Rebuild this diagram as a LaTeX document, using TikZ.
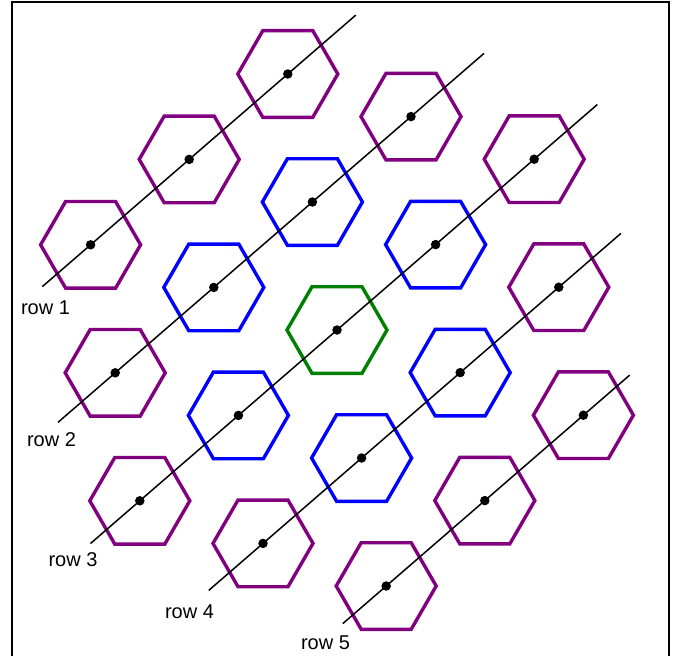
\documentclass[tikz,border=0pt]{standalone}
\usepackage{fontspec}
\setmainfont{Liberation Sans}
\usetikzlibrary{calc}
\definecolor{hpurple}{RGB}{128,0,128}
\definecolor{hblue}{RGB}{0,0,255}
\definecolor{hgreen}{RGB}{0,128,0}
\tikzset{
  hexp/.style={draw=hpurple,line width=3.4pt},
  hexb/.style={draw=hblue,line width=3.4pt},
  hexg/.style={draw=hgreen,line width=3.4pt},
  rowline/.style={draw=black,line width=1.5pt},
  centerdot/.style={circle,fill=black,inner sep=0pt,minimum size=9.5pt},
  rowlabel/.style={anchor=base,inner sep=0pt,font=\fontsize{20}{24}\selectfont},
  frameline/.style={draw=black,line width=2pt}
}
\begin{document}
\begin{tikzpicture}[x=1pt,y=-1pt]
\useasboundingbox (0,0) rectangle (680,656);
\fill[white] (0,0) rectangle (680,656);
% frame
\coordinate (f1) at (11.5,656);
\coordinate (f2) at (11.5,1.5);
\coordinate (f3) at (669,1.5);
\coordinate (f4) at (669,656);
\draw[frameline] (f1) -- (f2) -- (f3) -- (f4);
% hex centres
\coordinate (h11) at (90.6,244.8);
\coordinate (h12) at (189.2,159.4);
\coordinate (h13) at (287.8,74.0);
\coordinate (h21) at (115.2,372.8);
\coordinate (h22) at (213.8,287.4);
\coordinate (h23) at (312.4,202.0);
\coordinate (h24) at (411.0,116.6);
\coordinate (h31) at (139.8,500.8);
\coordinate (h32) at (238.4,415.4);
\coordinate (h33) at (337.0,330.0);
\coordinate (h34) at (435.6,244.6);
\coordinate (h35) at (534.2,159.2);
\coordinate (h41) at (263.0,543.4);
\coordinate (h42) at (361.6,458.0);
\coordinate (h43) at (460.2,372.6);
\coordinate (h44) at (558.8,287.2);
\coordinate (h51) at (386.2,586.0);
\coordinate (h52) at (484.8,500.6);
\coordinate (h53) at (583.4,415.2);
% hexagons
\foreach \n/\s in {h11/hexp,h12/hexp,h13/hexp,h21/hexp,h22/hexb,h23/hexb,h24/hexp,
  h31/hexp,h32/hexb,h33/hexg,h34/hexb,h35/hexp,h41/hexp,h42/hexb,h43/hexb,h44/hexp,
  h51/hexp,h52/hexp,h53/hexp}
  \draw[\s] (\n) +(0:50) -- +(60:50) -- +(120:50) -- +(180:50) -- +(240:50) -- +(300:50) -- cycle;
% row line ends
\coordinate (r1s) at ($(h11)!-0.49!(h12)$);
\coordinate (r1e) at ($(h13)!-0.69!(h12)$);
\coordinate (r2s) at ($(h21)!-0.58!(h22)$);
\coordinate (r2e) at ($(h24)!-0.74!(h23)$);
\coordinate (r3s) at ($(h31)!-0.50!(h32)$);
\coordinate (r3e) at ($(h35)!-0.64!(h34)$);
\coordinate (r4s) at ($(h41)!-0.55!(h42)$);
\coordinate (r4e) at ($(h44)!-0.63!(h43)$);
\coordinate (r5s) at ($(h51)!-0.44!(h52)$);
\coordinate (r5e) at ($(h53)!-0.47!(h52)$);
\foreach \r in {1,...,5}
  \draw[rowline] (r\r s) -- (r\r e);
% dots
\foreach \n in {h11,h12,h13,h21,h22,h23,h24,h31,h32,h33,h34,h35,h41,h42,h43,h44,h51,h52,h53}
  \node[centerdot] (d\n) at (\n) {};
% labels
\node[rowlabel] (l1) at (45.5,314) {row 1};
\node[rowlabel] (l2) at (51.5,446) {row 2};
\node[rowlabel] (l3) at (73,566) {row 3};
\node[rowlabel] (l4) at (189.5,618) {row 4};
\node[rowlabel] (l5) at (325.5,649) {row 5};
\end{tikzpicture}
\end{document}
